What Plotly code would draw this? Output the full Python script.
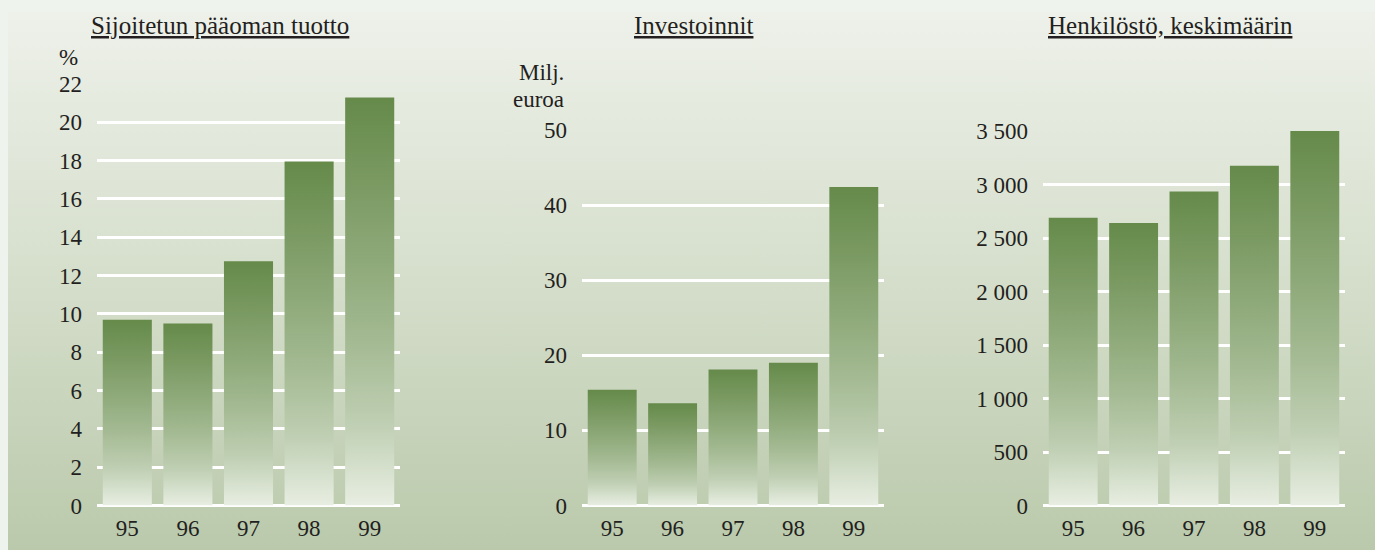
import base64
import plotly.graph_objects as go

# ---------------- data ----------------
years = ["95", "96", "97", "98", "99"]
roce = [9.7, 9.5, 12.75, 17.95, 21.3]          # Sijoitetun pääoman tuotto, %
invest = [15.4, 13.6, 18.1, 19.0, 42.4]        # Investoinnit, Milj. euroa
staff = [2690, 2640, 2935, 3175, 3500]         # Henkilöstö, keskimäärin

titles = ["Sijoitetun pääoman tuotto", "Investoinnit", "Henkilöstö, keskimäärin"]

roce_ticks = [0, 2, 4, 6, 8, 10, 12, 14, 16, 18, 20, 22]
invest_ticks = [0, 10, 20, 30, 40, 50]
staff_ticks = [0, 500, 1000, 1500, 2000, 2500, 3000, 3500]
staff_ticktext = ["0", "500", "1 000", "1 500", "2 000", "2 500", "3 000", "3 500"]

# ---------------- style / layout ----------------
W, H = 1375, 550
FONT = "'Liberation Serif', 'Times New Roman', Times, serif"
TXT = "#231f20"
bar_scale = [
    [0.0, "#e8eee2"],
    [0.2, "#bfcfb3"],
    [0.4, "#a4ba93"],
    [0.6, "#8ea979"],
    [0.8, "#799961"],
    [1.0, "#658a4a"],
]
half_w = 0.405


def px_x(x):
    return x / W


def px_y(y):
    return (H - y) / H


svg = f'''<svg xmlns="http://www.w3.org/2000/svg" width="{W}" height="{H}" viewBox="0 0 {W} {H}" preserveAspectRatio="none">
<defs><linearGradient id="g" x1="0" y1="0" x2="0" y2="1">
<stop offset="0" stop-color="#eef1ea"/><stop offset="0.5" stop-color="#d5decb"/><stop offset="1" stop-color="#bac9ab"/>
</linearGradient></defs>
<rect x="0" y="0" width="{W}" height="{H}" fill="#eef3ed"/>
<rect x="8" y="12" width="{W-8}" height="{H-12}" fill="url(#g)"/>
</svg>'''
bg_uri = "data:image/svg+xml;base64," + base64.b64encode(svg.encode()).decode()

fig = go.Figure()

y0_px = 505.5
panels = [
    dict(vals=roce, ticks=roce_ticks, ticktext=[str(t) for t in roce_ticks],
         xdom=[px_x(97), px_x(400)], ytop=22, ydom=[px_y(y0_px), px_y(84)]),
    dict(vals=invest, ticks=invest_ticks, ticktext=[str(t) for t in invest_ticks],
         xdom=[px_x(582), px_x(884)], ytop=50, ydom=[px_y(y0_px), px_y(130)]),
    dict(vals=staff, ticks=staff_ticks, ticktext=staff_ticktext,
         xdom=[px_x(1043), px_x(1345)], ytop=3500, ydom=[px_y(y0_px), px_y(131)]),
]

for k, p in enumerate(panels):
    sfx = "" if k == 0 else str(k + 1)
    for i, v in enumerate(p["vals"]):
        fig.add_trace(go.Scatter(
            x=[i - half_w, i - half_w, i + half_w, i + half_w, i - half_w],
            y=[0, v, v, 0, 0],
            mode="lines", fill="toself", line=dict(width=0, color="rgba(0,0,0,0)"),
            fillgradient=dict(type="vertical", colorscale=bar_scale, start=0, stop=v),
            hoverinfo="skip", showlegend=False,
            xaxis="x" + sfx, yaxis="y" + sfx,
        ))
    fig.update_layout(**{
        "xaxis" + sfx: dict(
            domain=p["xdom"], range=[-0.5, 4.5], tickvals=list(range(len(years))),
            ticktext=years, showgrid=False, zeroline=False, showline=False,
            ticks="", tickfont=dict(family=FONT, size=23, color=TXT),
            ticklabelstandoff=6, anchor="y" + sfx, fixedrange=True, automargin=False,
        ),
        "yaxis" + sfx: dict(
            domain=p["ydom"], range=[0, p["ytop"]], tickvals=p["ticks"],
            ticktext=p["ticktext"], showgrid=True, gridcolor="white", gridwidth=3,
            zeroline=True, zerolinecolor="white", zerolinewidth=3, showline=False,
            ticks="", tickfont=dict(family=FONT, size=23, color=TXT),
            ticklabelstandoff=14, anchor="x" + sfx, fixedrange=True, automargin=False,
        ),
    })

annotations = []
title_x = [219.5, 693, 1170]
for t, x in zip(titles, title_x):
    annotations.append(dict(
        text=f"<u>{t}</u>", x=px_x(x), y=px_y(26), xref="paper", yref="paper",
        xanchor="center", yanchor="middle", showarrow=False,
        font=dict(family=FONT, size=25, color=TXT),
    ))
unit_labels = [("%", 80, 57), ("Milj.", 566, 73), ("euroa", 566, 99)]
for t, x, y in unit_labels:
    annotations.append(dict(
        text=t, x=px_x(x), y=px_y(y), xref="paper", yref="paper",
        xanchor="right", yanchor="middle", showarrow=False,
        font=dict(family=FONT, size=23, color=TXT),
    ))

fig.update_layout(
    template="none",
    width=W, height=H, margin=dict(l=0, r=0, t=0, b=0, pad=0, autoexpand=False),
    paper_bgcolor="#d5decb", plot_bgcolor="rgba(0,0,0,0)",
    font=dict(family=FONT, color=TXT),
    images=[dict(source=bg_uri, xref="paper", yref="paper", x=0, y=1,
                 sizex=1, sizey=1, xanchor="left", yanchor="top",
                 sizing="stretch", layer="below")],
    annotations=annotations,
    showlegend=False,
)

fig.write_html(
    "out.html",
    config={"displayModeBar": False, "staticPlot": True},
    post_script="document.body.style.margin='0';document.body.style.overflow='hidden';",
)
